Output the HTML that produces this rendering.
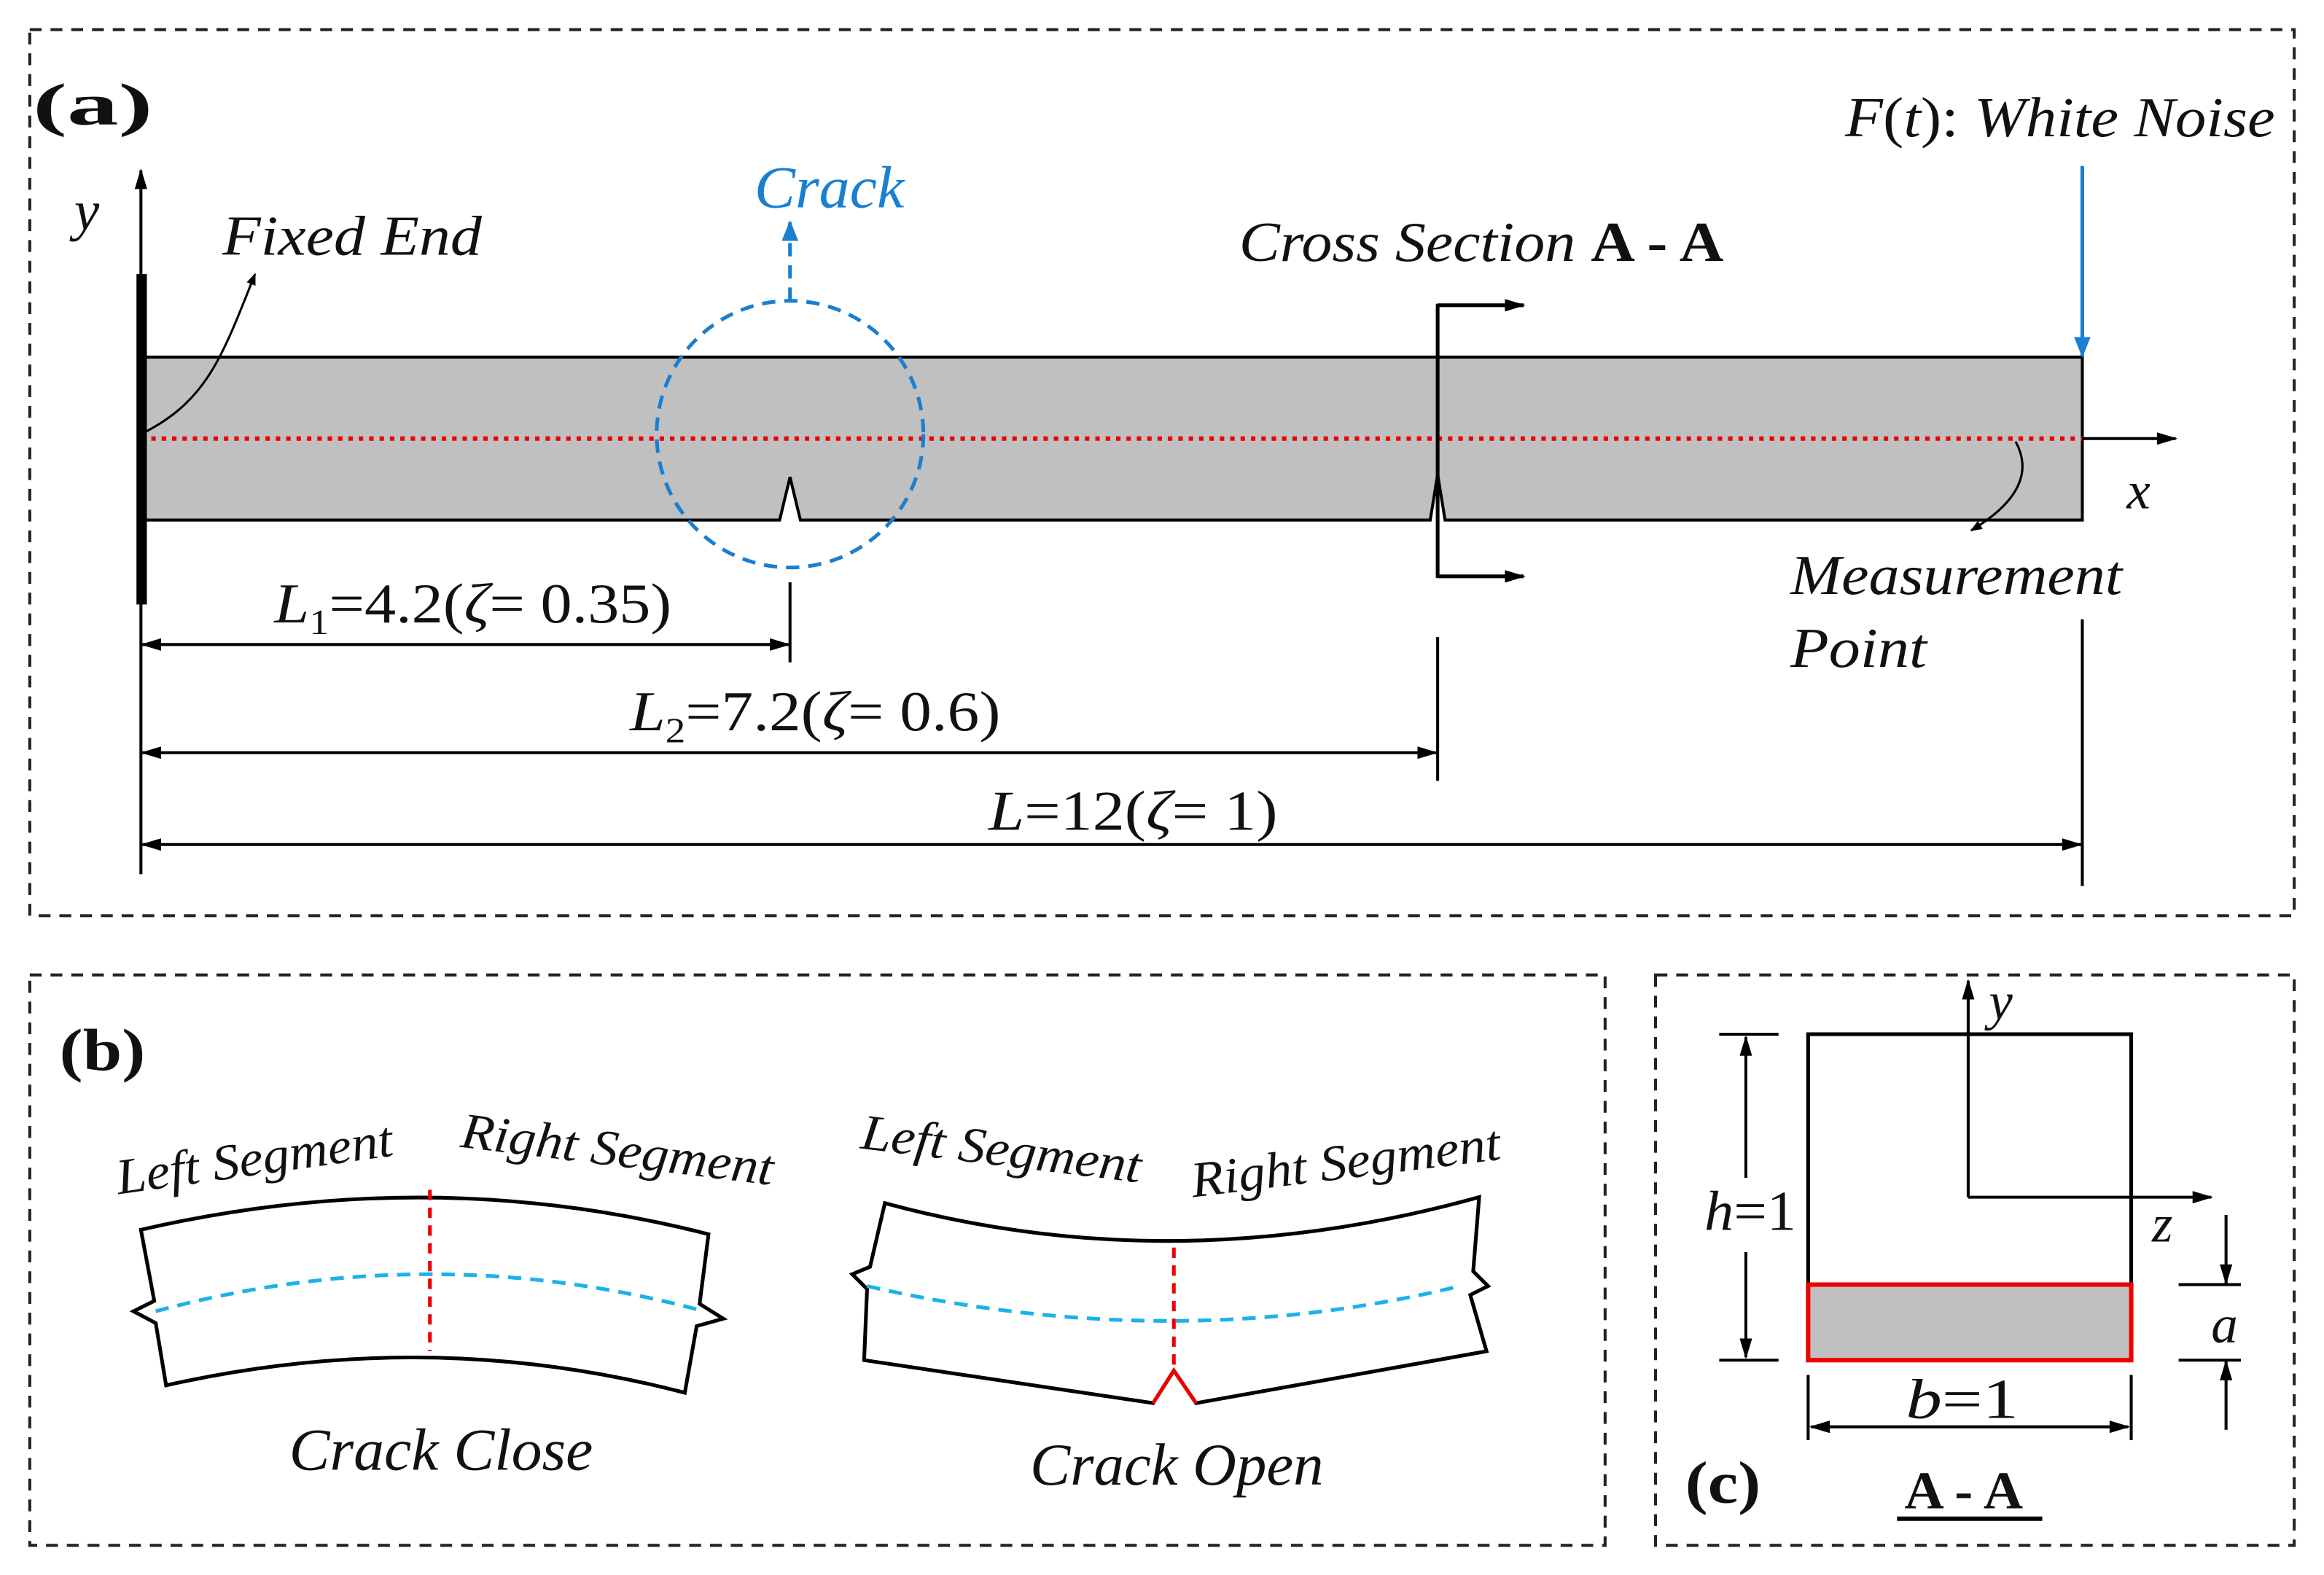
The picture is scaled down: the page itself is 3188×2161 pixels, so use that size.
<!DOCTYPE html>
<html><head><meta charset="utf-8"><style>
html,body{margin:0;padding:0;background:#fff}
svg{display:block}
text{font-family:"Liberation Serif",serif;fill:#111}
.i{font-style:italic}
</style></head><body>
<svg width="3188" height="2161" viewBox="0 0 1568 1063" xmlns="http://www.w3.org/2000/svg">
<defs>
<marker id="ah" viewBox="0 0 10 10" refX="9" refY="5" markerWidth="8" markerHeight="8" orient="auto-start-reverse" markerUnits="userSpaceOnUse"><path d="M0,1 L10,5 L0,9 z" fill="#000"/></marker>
<marker id="ab" viewBox="0 0 10 10" refX="9" refY="5" markerWidth="14" markerHeight="14" orient="auto-start-reverse" markerUnits="userSpaceOnUse"><path d="M0,1 L10,5 L0,9 z" fill="#1a7fd0"/></marker>
<marker id="al" viewBox="0 0 10 10" refX="9" refY="5" markerWidth="18" markerHeight="14" orient="auto-start-reverse" markerUnits="userSpaceOnUse"><path d="M0,2 L10,5 L0,8 z" fill="#000"/></marker>
</defs>
<g fill="none" stroke="#222" stroke-width="2" stroke-dasharray="8,6">
<rect x="20" y="20" width="1528" height="598"/>
<rect x="20" y="658" width="1063" height="385"/>
<rect x="1117" y="658" width="431" height="385"/>
</g>
<!-- Panel a -->
<text x="22" y="84" font-size="40" font-weight="bold" textLength="81" lengthAdjust="spacingAndGlyphs">(a)</text>
<path d="M95,241 H1405 V351 H975 L970,320 L965,351 H540 L533,322 L526,351 H95 Z" fill="#c0c0c0" stroke="#000" stroke-width="2"/>
<line x1="95" y1="296" x2="1405" y2="296" stroke="#e00" stroke-width="3" stroke-dasharray="3,4"/>
<line x1="1405" y1="296" x2="1468" y2="296" stroke="#000" stroke-width="2" marker-end="url(#al)"/>
<rect x="92" y="185" width="7" height="223" fill="#000"/>
<line x1="95" y1="408" x2="95" y2="115" stroke="#000" stroke-width="2" marker-end="url(#al)"/>
<text x="50" y="155" font-size="38" class="i">y</text>
<text x="1435" y="343" font-size="36" class="i">x</text>
<path d="M97,292 C140,270 150,240 172,185" fill="none" stroke="#000" stroke-width="1.5" marker-end="url(#ah)"/>
<text x="150" y="172" font-size="38" class="i" textLength="175" lengthAdjust="spacingAndGlyphs">Fixed End</text>
<circle cx="533" cy="293" r="90" fill="none" stroke="#1a7fd0" stroke-width="2.5" stroke-dasharray="9,6"/>
<line x1="533" y1="203" x2="533" y2="150" stroke="#1a7fd0" stroke-width="2.5" stroke-dasharray="9,6" marker-end="url(#ab)"/>
<text x="509" y="140" font-size="40" class="i" style="fill:#1a7fd0" textLength="101" lengthAdjust="spacingAndGlyphs">Crack</text>
<line x1="970" y1="205" x2="970" y2="390" stroke="#000" stroke-width="2.5"/>
<line x1="970" y1="206" x2="1028" y2="206" stroke="#000" stroke-width="2.5" marker-end="url(#al)"/>
<line x1="970" y1="389" x2="1028" y2="389" stroke="#000" stroke-width="2.5" marker-end="url(#al)"/>
<text x="836" y="176" font-size="38" textLength="327" lengthAdjust="spacingAndGlyphs"><tspan class="i">Cross Section </tspan><tspan font-weight="bold">A - A</tspan></text>
<line x1="1405" y1="112" x2="1405" y2="240" stroke="#1a7fd0" stroke-width="2.5" marker-end="url(#ab)"/>
<text x="1245" y="92" font-size="38" class="i" textLength="290" lengthAdjust="spacingAndGlyphs"><tspan>F</tspan><tspan font-style="normal">(</tspan>t<tspan font-style="normal">): </tspan>White Noise</text>
<path d="M1360,298 C1372,320 1360,340 1330,358" fill="none" stroke="#000" stroke-width="1.5" marker-end="url(#ah)"/>
<text x="1208" y="401" font-size="38" class="i" textLength="224" lengthAdjust="spacingAndGlyphs">Measurement</text>
<text x="1208" y="450" font-size="38" class="i" textLength="92" lengthAdjust="spacingAndGlyphs">Point</text>
<g stroke="#000" stroke-width="2">
<line x1="95" y1="300" x2="95" y2="590"/>
<line x1="533" y1="393" x2="533" y2="447"/>
<line x1="970" y1="430" x2="970" y2="527"/>
<line x1="1405" y1="418" x2="1405" y2="598"/>
<line x1="96" y1="435" x2="532" y2="435" marker-start="url(#al)" marker-end="url(#al)"/>
<line x1="96" y1="508" x2="969" y2="508" marker-start="url(#al)" marker-end="url(#al)"/>
<line x1="96" y1="570" x2="1404" y2="570" marker-start="url(#al)" marker-end="url(#al)"/>
</g>
<text x="185" y="420" font-size="38" textLength="268" lengthAdjust="spacingAndGlyphs"><tspan class="i">L</tspan><tspan font-size="24" dy="8">1</tspan><tspan dy="-8">=4.2(</tspan><tspan class="i">ζ</tspan>= 0.35)</text>
<text x="425" y="493" font-size="38" textLength="250" lengthAdjust="spacingAndGlyphs"><tspan class="i">L</tspan><tspan font-size="24" dy="8">2</tspan><tspan dy="-8">=7.2(</tspan><tspan class="i">ζ</tspan>= 0.6)</text>
<text x="667" y="560" font-size="38" textLength="195" lengthAdjust="spacingAndGlyphs"><tspan class="i">L</tspan>=12(<tspan class="i">ζ</tspan>= 1)</text>
<!-- Panel b -->
<text x="40" y="722" font-size="40" font-weight="bold" textLength="58" lengthAdjust="spacingAndGlyphs">(b)</text>
<g fill="none" stroke="#000" stroke-width="2.5">
<path d="M95,830 Q290,785 478,833 L472,880 L488,890 L470,895 L462,940 Q290,895 112,935 L105,893 L90,885 L104,878 Z"/>
<path d="M597,812 Q792,865 998,808 L994,858 L1004,868 L992,874 L1003,912 Q900,930 807,947 L792,925 L778,947 Q680,932 583,918 L585,870 L575,860 L587,855 Z"/>
</g>
<path d="M778,947 L792,925 L807,947" fill="none" stroke="#e00" stroke-width="2.5"/>
<line x1="290" y1="803" x2="290" y2="912" stroke="#e00" stroke-width="2.5" stroke-dasharray="7,5"/>
<line x1="792" y1="842" x2="792" y2="925" stroke="#e00" stroke-width="2.5" stroke-dasharray="7,5"/>
<path d="M105,885 Q290,835 475,885" fill="none" stroke="#1ab3e8" stroke-width="2.5" stroke-dasharray="9,6"/>
<path d="M585,868 Q792,915 985,868" fill="none" stroke="#1ab3e8" stroke-width="2.5" stroke-dasharray="9,6"/>
<text x="80" y="806" font-size="34" class="i" transform="rotate(-8 80 806)" textLength="188" lengthAdjust="spacingAndGlyphs">Left Segment</text>
<text x="310" y="774" font-size="34" class="i" transform="rotate(7 310 774)" textLength="212" lengthAdjust="spacingAndGlyphs">Right Segment</text>
<text x="580" y="775" font-size="34" class="i" transform="rotate(7 580 775)" textLength="190" lengthAdjust="spacingAndGlyphs">Left Segment</text>
<text x="805" y="808" font-size="34" class="i" transform="rotate(-7 805 808)" textLength="210" lengthAdjust="spacingAndGlyphs">Right Segment</text>
<text x="195" y="992" font-size="40" class="i" textLength="205" lengthAdjust="spacingAndGlyphs">Crack Close</text>
<text x="695" y="1002" font-size="40" class="i" textLength="198" lengthAdjust="spacingAndGlyphs">Crack Open</text>
<!-- Panel c -->
<text x="1137" y="1014" font-size="40" font-weight="bold" textLength="51" lengthAdjust="spacingAndGlyphs">(c)</text>
<rect x="1220" y="698" width="218" height="220" fill="none" stroke="#000" stroke-width="2.5"/>
<rect x="1220" y="867" width="218" height="51" fill="#c0c0c0" stroke="#e00" stroke-width="3"/>
<g stroke="#000" stroke-width="2">
<line x1="1328" y1="808" x2="1328" y2="662" marker-end="url(#al)"/>
<line x1="1328" y1="808" x2="1492" y2="808" marker-end="url(#al)"/>
<line x1="1160" y1="698" x2="1200" y2="698"/>
<line x1="1160" y1="918" x2="1200" y2="918"/>
<line x1="1178" y1="700" x2="1178" y2="795" marker-start="url(#al)"/>
<line x1="1178" y1="845" x2="1178" y2="916" marker-end="url(#al)"/>
<line x1="1220" y1="928" x2="1220" y2="972"/>
<line x1="1438" y1="928" x2="1438" y2="972"/>
<line x1="1222" y1="963" x2="1436" y2="963" marker-start="url(#al)" marker-end="url(#al)"/>
<line x1="1470" y1="867" x2="1512" y2="867"/>
<line x1="1470" y1="918" x2="1512" y2="918"/>
<line x1="1502" y1="820" x2="1502" y2="866" marker-end="url(#al)"/>
<line x1="1502" y1="965" x2="1502" y2="919" marker-end="url(#al)"/>
<line x1="1280" y1="1025" x2="1378" y2="1025" stroke-width="3"/>
</g>
<text x="1342" y="688" font-size="36" class="i">y</text>
<text x="1452" y="838" font-size="36" class="i">z</text>
<text x="1150" y="830" font-size="38" textLength="62" lengthAdjust="spacingAndGlyphs"><tspan class="i">h</tspan>=1</text>
<text x="1286" y="957" font-size="38" textLength="76" lengthAdjust="spacingAndGlyphs"><tspan class="i">b</tspan>=1</text>
<text x="1492" y="906" font-size="36" class="i">a</text>
<text x="1285" y="1018" font-size="36" font-weight="bold" textLength="80" lengthAdjust="spacingAndGlyphs">A - A</text>
</svg>
</body></html>
